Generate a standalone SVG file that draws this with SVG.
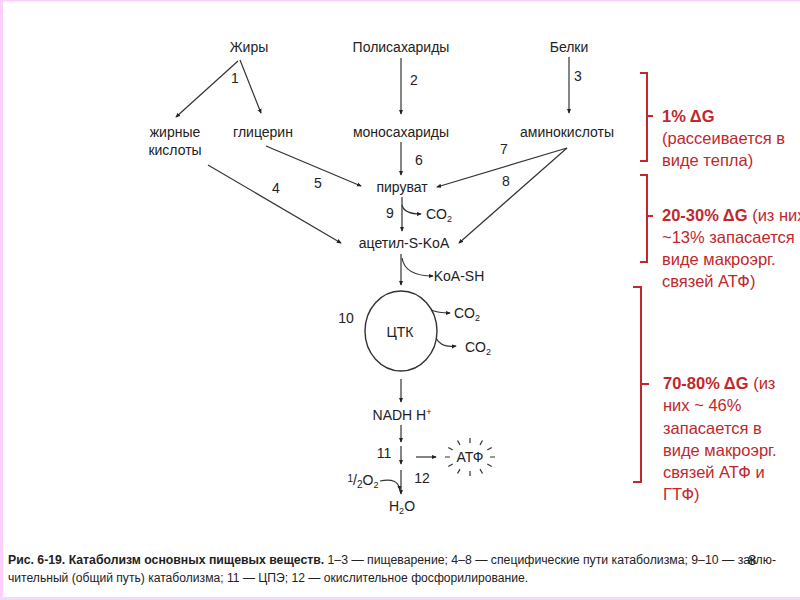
<svg xmlns="http://www.w3.org/2000/svg" width="800" height="600" viewBox="0 0 800 600">
<style>
text{font-family:"Liberation Sans",Arial,sans-serif;fill:#222}
.n{font-size:14px;text-anchor:middle}
.l{font-size:14px;text-anchor:middle}
.r{font-size:16.5px;fill:#c1272d}
.rb{font-weight:bold}
.c{font-size:12px}
.e{fill:none;stroke:#333;stroke-width:1.2}
.br{fill:none;stroke:#c1272d;stroke-width:2}
.ray{stroke:#333;stroke-width:1.2}
</style>
<defs>
<marker id="a" viewBox="0 0 6 6" refX="5" refY="3" markerWidth="5" markerHeight="5" orient="auto" markerUnits="userSpaceOnUse">
<path d="M0,0.5 L6,3 L0,5.5 Z" fill="#222"/>
</marker>
</defs>
<rect x="0" y="0" width="800" height="600" fill="#fff"/>
<rect x="0" y="0" width="3" height="600" fill="#fdd0fc"/>
<rect x="0" y="0" width="800" height="1.5" fill="#fdd0fc"/>
<rect x="0" y="597" width="800" height="3" fill="#ecdcf4"/>

<g id="connectors">
<path class="e" d="M238,61 L176,117" marker-end="url(#a)"/>
<path class="e" d="M240,60 L261,113" marker-end="url(#a)"/>
<path class="e" d="M401,58 L401,114" marker-end="url(#a)"/>
<path class="e" d="M569,57 L569,113" marker-end="url(#a)"/>
<path class="e" d="M401,142 L401,175" marker-end="url(#a)"/>
<path class="e" d="M266,146 L361,186" marker-end="url(#a)"/>
<path class="e" d="M208,165 L341,243" marker-end="url(#a)"/>
<path class="e" d="M567,148 L437,187" marker-end="url(#a)"/>
<path class="e" d="M567,148 L459,243" marker-end="url(#a)"/>
<path class="e" d="M402,197 L402,231" marker-end="url(#a)"/>
<path class="e" d="M402,205 Q404,214 421,214" marker-end="url(#a)"/>
<path class="e" d="M401,254 L401,285" marker-end="url(#a)"/>
<path class="e" d="M402,258 Q405,276 433,276" marker-end="url(#a)"/>
<path class="e" d="M431,310 Q438,313 450,313" marker-end="url(#a)"/>
<path class="e" d="M436,338 Q441,348 456,346" marker-end="url(#a)"/>
<path class="e" d="M401,379 L401,402" marker-end="url(#a)"/>
<path class="e" d="M401,425 L401,442" marker-end="url(#a)"/>
<path class="e" d="M401,446 L401,464" marker-end="url(#a)"/>
<path class="e" d="M416,457 L436,457" marker-end="url(#a)"/>
<path class="e" d="M380,481 Q398,477 400,490" marker-end="url(#a)"/>
<path class="e" d="M401,470 L401,494" marker-end="url(#a)"/>
</g>

<g id="fats"><text class="n" x="249" y="52">Жиры</text></g>
<g id="polysaccharides"><text class="n" x="401" y="52">Полисахариды</text></g>
<g id="proteins"><text class="n" x="569" y="52">Белки</text></g>
<g id="fatty-acids"><text class="n" x="175" y="137">жирные</text><text class="n" x="175" y="155">кислоты</text></g>
<g id="glycerol"><text class="n" x="263" y="137">глицерин</text></g>
<g id="monosaccharides"><text class="n" x="401" y="137">моносахариды</text></g>
<g id="amino-acids"><text class="n" x="567" y="137">аминокислоты</text></g>
<g id="pyruvate"><text class="n" x="402" y="192">пируват</text></g>
<g id="co2-a"><text class="n" x="439" y="219">CO<tspan font-size="9" dy="3">2</tspan></text></g>
<g id="acetyl-coa"><text class="n" x="404" y="248">ацетил-S-KoA</text></g>
<g id="koa-sh"><text class="n" x="459" y="281">KoA-SH</text></g>
<g id="tca">
<ellipse cx="401" cy="331" rx="36" ry="40" fill="none" stroke="#333" stroke-width="1.4"/>
<text class="n" x="400" y="337">ЦТК</text>
</g>
<g id="co2-b"><text class="n" x="467" y="318">CO<tspan font-size="9" dy="3">2</tspan></text></g>
<g id="co2-c"><text class="n" x="478" y="352">CO<tspan font-size="9" dy="3">2</tspan></text></g>
<g id="nadh"><text class="n" x="402" y="420">NADH H<tspan font-size="9" dy="-5">+</tspan></text></g>
<g id="atp">
<text class="n" x="470" y="462">АТФ</text>
<path class="ray" d="M490,457 L495,457 M487.3,450 L491.7,447.5 M480,444.9 L482.5,440.5 M470,443 L470,438 M460,444.9 L457.5,440.5 M452.7,450 L448.3,447.5 M450,457 L445,457 M452.7,464 L448.3,466.5 M460,469.1 L457.5,473.5 M470,471 L470,476 M480,469.1 L482.5,473.5 M487.3,464 L491.7,466.5"/>
</g>
<g id="oxygen"><text class="n" x="363" y="485"><tspan font-size="10" dy="-3">1</tspan><tspan dy="3">/</tspan><tspan font-size="10" dy="3">2</tspan><tspan dy="-3">O</tspan><tspan font-size="9" dy="3">2</tspan></text></g>
<g id="water"><text class="n" x="402" y="511">H<tspan font-size="9" dy="3">2</tspan><tspan dy="-3">O</tspan></text></g>

<g id="labels">
<text class="l" x="235" y="83">1</text>
<text class="l" x="414" y="85">2</text>
<text class="l" x="578" y="81">3</text>
<text class="l" x="276" y="193">4</text>
<text class="l" x="318" y="188">5</text>
<text class="l" x="419" y="165">6</text>
<text class="l" x="504" y="154">7</text>
<text class="l" x="506" y="186">8</text>
<text class="l" x="390" y="218">9</text>
<text class="l" x="346" y="323">10</text>
<text class="l" x="384" y="458">11</text>
<text class="l" x="422" y="483">12</text>
</g>

<g id="bracket-1">
<path class="br" d="M640,73 L647,73 L647,161 L640,161 M647,116 L653,116"/>
<text class="r rb" x="662" y="122">1% ΔG</text>
<text class="r" x="662" y="144">(рассеивается в</text>
<text class="r" x="662" y="166">виде тепла)</text>
</g>
<g id="bracket-2">
<path class="br" d="M640,175 L647,175 L647,262 L640,262 M647,216 L653,216"/>
<text class="r" x="662" y="221"><tspan class="rb">20-30% ΔG</tspan> (из них</text>
<text class="r" x="662" y="243">~13% запасается в</text>
<text class="r" x="662" y="265">виде макроэрг.</text>
<text class="r" x="662" y="287">связей АТФ)</text>
</g>
<g id="bracket-3">
<path class="br" d="M633,287 L641,287 L641,482 L633,482 M641,384 L649,384"/>
<text class="r" x="663" y="389"><tspan class="rb">70-80% ΔG</tspan> (из</text>
<text class="r" x="663" y="411">них ~ 46%</text>
<text class="r" x="663" y="434">запасается в</text>
<text class="r" x="663" y="456">виде макроэрг.</text>
<text class="r" x="663" y="478">связей АТФ и</text>
<text class="r" x="663" y="500">ГТФ)</text>
</g>

<g id="caption">
<text class="c" x="8" y="564" textLength="768" lengthAdjust="spacingAndGlyphs"><tspan font-weight="bold">Рис. 6-19. Катаболизм основных пищевых веществ.</tspan> 1–3 — пищеварение; 4–8 — специфические пути катаболизма; 9–10 — заклю-</text>
<text class="c" x="8" y="582" textLength="520" lengthAdjust="spacingAndGlyphs">чительный (общий путь) катаболизма; 11 — ЦПЭ; 12 — окислительное фосфорилирование.</text>
<text x="748" y="565" font-size="15" fill="#555">8</text>
</g>
</svg>
